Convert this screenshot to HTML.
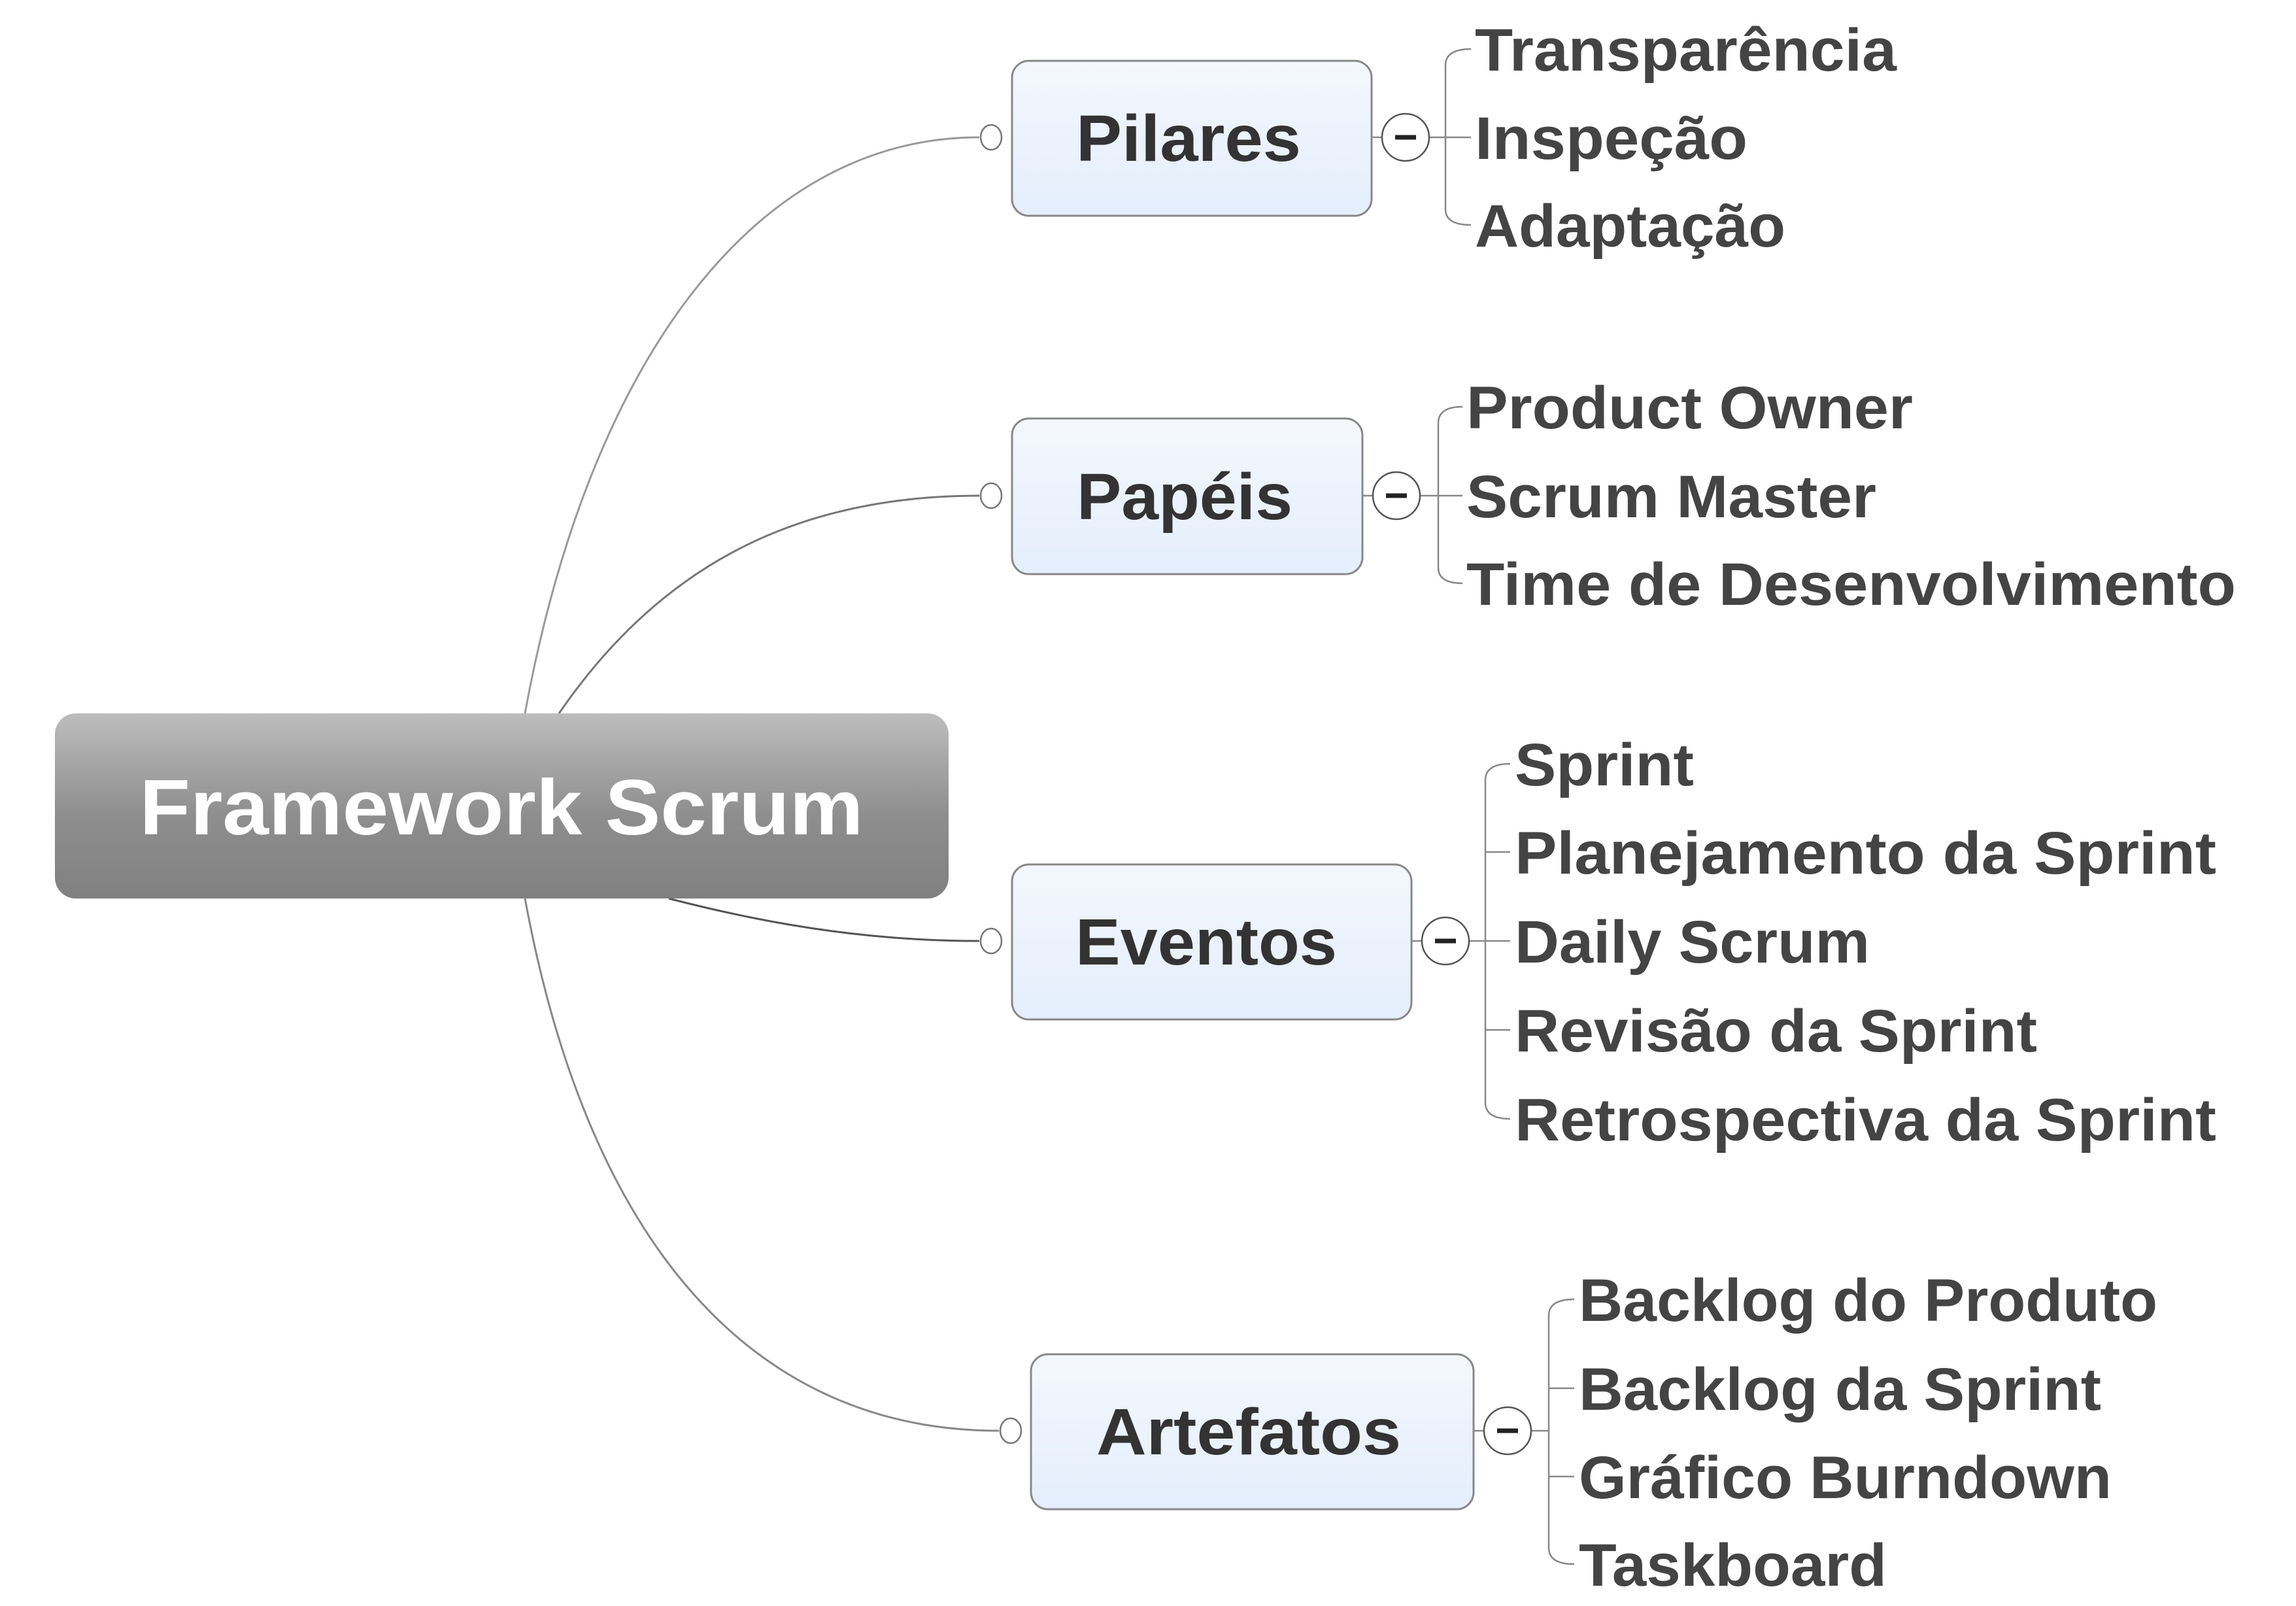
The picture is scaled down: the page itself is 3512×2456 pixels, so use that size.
<!DOCTYPE html>
<html><head><meta charset="utf-8"><style>
html,body{margin:0;padding:0;background:#fff;}
svg{display:block;}
text{font-family:"Liberation Sans",sans-serif;font-weight:bold;}
</style></head><body>
<svg width="3512" height="2456" viewBox="0 0 3512 2456" xmlns="http://www.w3.org/2000/svg">
<defs>
<linearGradient id="cg" x1="0" y1="0" x2="0" y2="1">
<stop offset="0" stop-color="#bdbdbd"/><stop offset="0.55" stop-color="#8e8e8e"/><stop offset="1" stop-color="#808080"/>
</linearGradient>
<linearGradient id="ng" x1="0" y1="0" x2="0" y2="1">
<stop offset="0" stop-color="#f4f7fd"/><stop offset="1" stop-color="#e4eefc"/>
</linearGradient>
</defs>
<g fill="none" stroke-width="3">
<path d="M803,1091 C 900,560 1150,210 1498,210" stroke="#999"/>
<path d="M855,1091 C 1000,880 1200,758 1498,758" stroke="#777"/>
<path d="M1023,1374 C 1200,1420 1350,1439 1498,1439" stroke="#555"/>
<path d="M803,1374 C 900,1900 1150,2188 1528,2188" stroke="#888"/>
</g>
<rect x="84" y="1091" width="1367" height="283" rx="32" fill="url(#cg)"/>
<text x="767" y="1276" font-size="120" fill="#fff" text-anchor="middle" textLength="1107" lengthAdjust="spacingAndGlyphs">Framework Scrum</text>
<g fill="#fff" stroke="#777" stroke-width="2.5">
<ellipse cx="1516" cy="210" rx="16" ry="19"/>
<ellipse cx="1516" cy="758" rx="16" ry="19"/>
<ellipse cx="1516" cy="1439" rx="16" ry="19"/>
<ellipse cx="1546" cy="2188" rx="16" ry="19"/>
</g>
<g stroke="#888" stroke-width="3" fill="url(#ng)">
<rect x="1548" y="93" width="550" height="237" rx="26"/>
<rect x="1548" y="640" width="536" height="238" rx="26"/>
<rect x="1548" y="1322" width="611" height="237" rx="26"/>
<rect x="1577" y="2071" width="677" height="237" rx="26"/>
</g>
<g font-size="100" fill="#333" text-anchor="middle">
<text x="1818" y="246" textLength="344" lengthAdjust="spacingAndGlyphs">Pilares</text>
<text x="1812" y="794" textLength="330" lengthAdjust="spacingAndGlyphs">Papéis</text>
<text x="1845" y="1475" textLength="400" lengthAdjust="spacingAndGlyphs">Eventos</text>
<text x="1910" y="2224" textLength="466" lengthAdjust="spacingAndGlyphs">Artefatos</text>
</g>
<g fill="none" stroke="#888" stroke-width="2.5">
<line x1="2098" y1="210" x2="2114" y2="210"/><line x1="2186" y1="210" x2="2250" y2="210"/>
<path d="M2250,75 Q2211,75 2211,100 L2211,320 Q2211,344 2250,344"/>
<line x1="2084" y1="758" x2="2100" y2="758"/><line x1="2172" y1="758" x2="2237" y2="758"/>
<path d="M2237,622 Q2200,622 2200,647 L2200,868 Q2200,892 2237,892"/>
<line x1="2159" y1="1439" x2="2175" y2="1439"/><line x1="2247" y1="1439" x2="2310" y2="1439"/>
<path d="M2310,1168 Q2272,1168 2272,1193 L2272,1686 Q2272,1711 2310,1711"/>
<line x1="2272" y1="1303" x2="2310" y2="1303"/><line x1="2272" y1="1575" x2="2310" y2="1575"/>
<line x1="2254" y1="2188" x2="2270" y2="2188"/><line x1="2342" y1="2188" x2="2369" y2="2188"/>
<path d="M2408,1987 Q2369,1987 2369,2012 L2369,2367 Q2369,2392 2408,2392"/>
<line x1="2369" y1="2123" x2="2408" y2="2123"/><line x1="2369" y1="2258" x2="2408" y2="2258"/>
</g>
<g fill="#fff" stroke="#555" stroke-width="2.5">
<circle cx="2150" cy="210" r="36"/><circle cx="2136" cy="758" r="36"/>
<circle cx="2211" cy="1439" r="36"/><circle cx="2306" cy="2188" r="36"/>
</g>
<g stroke="#222" stroke-width="7">
<line x1="2134" y1="210" x2="2166" y2="210"/><line x1="2120" y1="758" x2="2152" y2="758"/>
<line x1="2195" y1="1439" x2="2227" y2="1439"/><line x1="2290" y1="2188" x2="2322" y2="2188"/>
</g>
<g font-size="92" fill="#444">
<text x="2256" y="108" textLength="645" lengthAdjust="spacingAndGlyphs">Transparência</text>
<text x="2256" y="243" textLength="417" lengthAdjust="spacingAndGlyphs">Inspeção</text>
<text x="2256" y="377" textLength="475" lengthAdjust="spacingAndGlyphs">Adaptação</text>
<text x="2243" y="655" textLength="683" lengthAdjust="spacingAndGlyphs">Product Owner</text>
<text x="2243" y="791" textLength="627" lengthAdjust="spacingAndGlyphs">Scrum Master</text>
<text x="2243" y="925" textLength="1177" lengthAdjust="spacingAndGlyphs">Time de Desenvolvimento</text>
<text x="2317" y="1201" textLength="274" lengthAdjust="spacingAndGlyphs">Sprint</text>
<text x="2317" y="1336" textLength="1073" lengthAdjust="spacingAndGlyphs">Planejamento da Sprint</text>
<text x="2317" y="1472" textLength="543" lengthAdjust="spacingAndGlyphs">Daily Scrum</text>
<text x="2317" y="1608" textLength="799" lengthAdjust="spacingAndGlyphs">Revisão da Sprint</text>
<text x="2317" y="1744" textLength="1073" lengthAdjust="spacingAndGlyphs">Retrospectiva da Sprint</text>
<text x="2415" y="2020" textLength="885" lengthAdjust="spacingAndGlyphs">Backlog do Produto</text>
<text x="2415" y="2156" textLength="799" lengthAdjust="spacingAndGlyphs">Backlog da Sprint</text>
<text x="2415" y="2291" textLength="815" lengthAdjust="spacingAndGlyphs">Gráfico Burndown</text>
<text x="2415" y="2425" textLength="471" lengthAdjust="spacingAndGlyphs">Taskboard</text>
</g>
</svg>
</body></html>
